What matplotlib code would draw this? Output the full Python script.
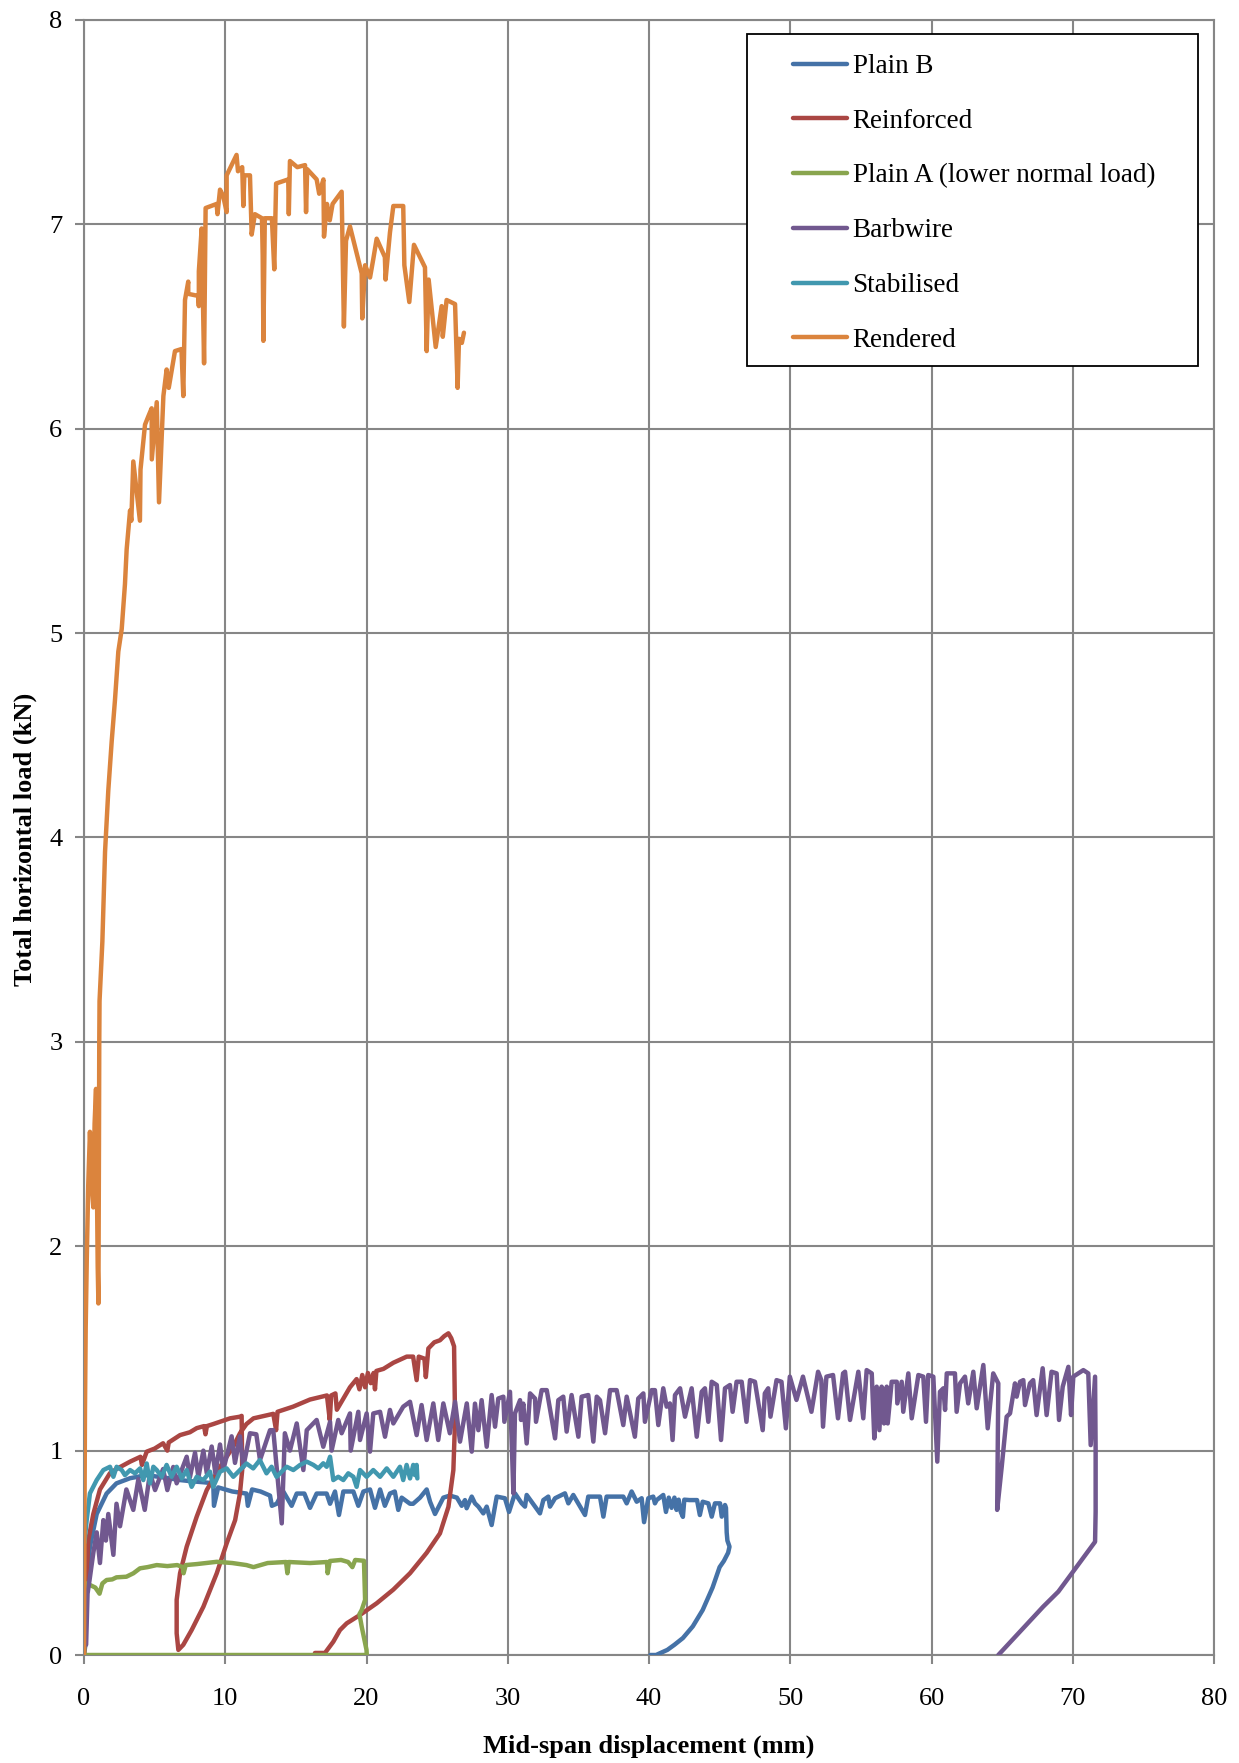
import matplotlib
matplotlib.use("Agg")
import matplotlib.pyplot as plt
from matplotlib.patches import Rectangle

plt.rcParams['font.family'] = ['Liberation Serif', 'DejaVu Serif']

# ---- data ----
labels = ["Plain B", "Reinforced", "Plain A (lower normal load)", "Barbwire", "Stabilised", "Rendered"]
colors = ["#4572A7", "#AA4643", "#89A54E", "#71588F", "#4198AF", "#DB843D"]

plain_b_x = [0.0, 0.1, 0.2, 0.42, 0.9, 1.6, 2.3, 3.26, 4.4, 5.5, 6.8, 7.6, 8.5, 9.15, 9.2, 9.5, 10.5,
             11.5, 11.6, 11.9, 12.5, 13.17, 13.3, 13.64, 14.11, 14.7, 15.06, 15.6, 16.0, 16.47, 17.18,
             17.42, 17.77, 18.05, 18.36, 19.07, 19.42, 19.78, 20.25, 20.6, 20.96, 21.3, 21.66, 22.0,
             22.25, 22.49, 23.08, 23.3, 23.79, 24.26, 24.5, 24.85, 25.44, 25.9, 26.4, 26.74, 26.97,
             27.09, 27.45, 27.68, 27.92, 28.27, 28.51, 28.86, 29.22, 29.8, 30.09, 30.51, 30.99, 31.22,
             31.34, 32.28, 32.52, 32.87, 32.99, 33.35, 34.05, 34.29, 34.64, 35.47, 35.7, 36.53, 36.77,
             37.0, 38.18, 38.42, 38.77, 39.13, 39.48, 39.65, 39.95, 40.3, 40.42, 40.54, 41.01, 41.2,
             41.4, 41.6, 41.8, 41.95, 42.1, 42.25, 42.4, 42.5, 42.88, 43.4, 43.6, 43.8, 44.2, 44.44,
             44.67, 45.03, 45.15, 45.38, 45.45, 45.5, 45.55, 45.7, 45.6, 45.3, 45.0, 44.5, 43.8,
             43.1, 42.4, 41.8, 41.3, 40.5, 40.1]
plain_b_y = [0.0, 0.05, 0.37, 0.53, 0.69, 0.79, 0.84, 0.865, 0.88, 0.87, 0.856, 0.85, 0.845, 0.84, 0.73,
             0.82, 0.80, 0.79, 0.73, 0.81, 0.80, 0.78, 0.73, 0.74, 0.80, 0.73, 0.79, 0.79, 0.72, 0.79,
             0.79, 0.74, 0.80, 0.685, 0.80, 0.80, 0.73, 0.80, 0.81, 0.72, 0.81, 0.73, 0.79, 0.80,
             0.71, 0.77, 0.74, 0.74, 0.77, 0.81, 0.75, 0.69, 0.77, 0.78, 0.77, 0.73, 0.758,
             0.718, 0.775, 0.742, 0.726, 0.693, 0.726, 0.636, 0.775, 0.767, 0.70, 0.791, 0.742, 0.726,
             0.783, 0.693, 0.758, 0.775, 0.726, 0.767, 0.791, 0.742, 0.783, 0.685, 0.775, 0.775, 0.677,
             0.775, 0.775, 0.742, 0.80, 0.75, 0.767, 0.65, 0.767, 0.775, 0.742, 0.758, 0.783, 0.70,
             0.77, 0.72, 0.77, 0.71, 0.76, 0.70, 0.676, 0.76, 0.758, 0.758, 0.685, 0.75, 0.742, 0.677,
             0.742, 0.742, 0.677, 0.734, 0.72, 0.60, 0.56, 0.53, 0.50, 0.46, 0.43, 0.33, 0.22,
             0.14, 0.083, 0.05, 0.025, 0.0, 0.0]

reinf_x = [0.0, 0.1, 0.3, 0.66, 1.13, 1.84, 2.3, 3.26, 4.0, 4.1, 4.44, 5.0, 5.6, 5.9, 6.0, 6.8, 7.5,
           7.98, 8.5, 8.6, 8.7, 9.15, 10.34, 11.04, 11.16, 11.2, 11.04, 10.7, 10.1, 9.4, 8.45, 7.62,
           7.03, 6.68, 6.56, 6.56, 6.8, 7.27, 7.98, 8.69, 9.63, 10.57, 11.04, 11.5, 12.0, 13.4, 13.6,
           13.7, 14.8, 16.0, 17.2, 17.4, 17.5, 17.8, 17.9, 18.83, 19.3, 19.5, 19.7, 19.9, 20.1, 20.3,
           20.5, 20.6, 20.7, 21.2, 21.9, 22.85, 23.3, 23.55, 23.7, 24.1, 24.2, 24.38, 24.8, 25.2, 25.5,
           25.8, 26.0, 26.2, 26.27, 26.15, 25.8, 25.2, 24.26, 23.08, 21.9, 20.72, 19.54, 18.6, 18.12,
           17.65, 17.06, 16.35]
reinf_y = [0.0, 0.2, 0.56, 0.69, 0.81, 0.89, 0.91, 0.946, 0.97, 0.93, 0.995, 1.01, 1.036, 1.0, 1.04,
           1.076, 1.09, 1.11, 1.12, 1.08, 1.12, 1.13, 1.158, 1.166, 1.17, 0.905, 0.79, 0.66, 0.546,
           0.40, 0.236, 0.122, 0.05, 0.025, 0.106, 0.27, 0.40, 0.53, 0.677, 0.807, 0.92, 1.02, 1.085,
           1.13, 1.158, 1.18, 1.10, 1.19, 1.215, 1.25, 1.27, 1.15, 1.27, 1.28, 1.20, 1.31, 1.35, 1.30,
           1.37, 1.31, 1.38, 1.33, 1.38, 1.30, 1.39, 1.40, 1.43, 1.46, 1.46, 1.345, 1.46, 1.45, 1.36,
           1.50, 1.53, 1.54, 1.56, 1.574, 1.55, 1.51, 1.15, 0.905, 0.725, 0.595, 0.50, 0.40, 0.32,
           0.253, 0.196, 0.155, 0.122, 0.065, 0.01, 0.01]

plain_a_x = [0.0, 0.05, 0.1, 0.19, 0.5, 0.8, 1.1, 1.3, 1.6, 2.0, 2.3, 3.0, 3.5, 3.96, 4.5, 5.15, 5.9,
             6.6, 7.0, 7.05, 7.2, 8.0, 9.4, 10.5, 11.5, 12.0, 13.0, 14.3, 14.4, 14.5, 16.0, 17.2,
             17.25, 17.4, 18.2, 18.7, 19.0, 19.2, 19.82, 19.9, 19.66, 19.5, 19.66, 20.0, 20.02, 0.0]
plain_a_y = [0.0, 0.2, 0.33, 0.35, 0.34, 0.33, 0.30, 0.35, 0.367, 0.37, 0.38, 0.383, 0.40, 0.424,
             0.43, 0.44, 0.435, 0.44, 0.43, 0.40, 0.44, 0.445, 0.456, 0.45, 0.44, 0.43, 0.45, 0.455,
             0.40, 0.455, 0.45, 0.455, 0.40, 0.46, 0.465, 0.455, 0.43, 0.465, 0.461, 0.27, 0.22, 0.2,
             0.139, 0.025, 0.0, 0.0]

barb_x = [0.15, 0.25, 0.4, 0.66, 0.9, 1.13, 1.37, 1.55, 1.72, 2.08, 2.3, 2.55, 3.0, 3.49, 3.85, 4.3,
          4.67, 5.03, 5.6, 5.9, 6.32, 6.56, 7.27, 7.5, 7.86, 8.1, 8.45, 8.69, 9.04, 9.3, 9.63, 9.86,
          10.45, 10.69, 11.04, 11.28, 11.75, 12.2, 12.46, 13.17, 13.4, 14.0, 14.22, 14.58, 15.06,
          15.53, 15.77, 16.47, 16.94, 17.42, 17.53, 18.0, 18.24, 18.83, 18.88, 19.42, 19.54, 20.01,
          20.25, 20.48, 20.96, 21.31, 21.66, 21.9, 22.6, 23.08, 23.55, 23.9, 24.26, 24.73, 25.08,
          25.44, 25.9, 26.27, 26.62, 27.1, 27.45, 27.68, 27.92, 28.15, 28.51, 28.86, 29.1, 29.33,
          29.69, 29.76, 30.16, 30.4, 30.51, 30.87, 30.94, 31.1, 31.34, 31.58, 31.93, 32.0, 32.4,
          32.76, 33.35, 33.58, 33.93, 34.17, 34.52, 35.0, 35.23, 35.7, 36.06, 36.3, 36.53, 36.89,
          37.24, 37.71, 38.18, 38.42, 39.0, 39.24, 39.6, 39.71, 40.19, 40.42, 40.66, 41.01, 41.25,
          41.48, 41.67, 41.84, 42.2, 42.55, 43.02, 43.38, 43.73, 43.96, 44.2, 44.44, 44.8, 45.1,
          45.38, 45.73, 45.92, 46.2, 46.56, 46.9, 47.15, 47.5, 48.05, 48.2, 48.44, 48.6, 49.03,
          49.38, 49.69, 49.97, 50.44, 50.9, 51.5, 51.97, 52.2, 52.32, 52.56, 53.03, 53.38, 53.74,
          53.88, 54.23, 54.82, 55.17, 55.41, 55.77, 55.95, 56.12, 56.31, 56.47, 56.64, 56.83, 56.9,
          57.18, 57.54, 57.58, 57.89, 58.0, 58.36, 58.6, 59.07, 59.42, 59.61, 59.77, 60.13, 60.41,
          60.6, 60.84, 60.96, 61.08, 61.66, 61.78, 62.02, 62.37, 62.6, 62.96, 63.2, 63.67, 63.98,
          64.37, 64.73, 64.65, 64.97, 65.32, 65.56, 65.91, 66.03, 66.27, 66.5, 66.62, 66.97, 67.2,
          67.44, 67.87, 68.15, 68.5, 68.86, 69.03, 69.29, 69.69, 69.88, 70.04, 70.75, 71.1, 71.27,
          71.58, 71.62, 71.62, 71.58, 68.98, 67.9, 64.73]
barb_y = [0.05, 0.30, 0.37, 0.5, 0.6, 0.45, 0.66, 0.56, 0.69, 0.49, 0.74, 0.63, 0.81, 0.71, 0.86,
          0.71, 0.89, 0.807, 0.91, 0.807, 0.92, 0.84, 0.97, 0.87, 0.99, 0.87, 1.0, 0.89, 1.02, 0.89,
          1.03, 0.905, 1.07, 0.94, 1.07, 0.92, 1.085, 1.08, 0.954, 1.10, 1.10, 0.644, 1.085, 1.0,
          1.133, 0.905, 1.10, 1.15, 1.019, 1.141, 1.0, 1.15, 1.085, 1.182, 1.0, 1.19, 1.052, 1.182,
          0.995, 1.182, 1.19, 1.068, 1.199, 1.133, 1.215, 1.239, 1.076, 1.223, 1.052, 1.231, 1.052,
          1.231, 1.085, 1.239, 1.044, 1.231, 0.995, 1.23, 1.10, 1.247, 1.019, 1.272, 1.117, 1.255,
          1.264, 1.141, 1.288, 0.791, 1.182, 1.247, 1.15, 1.23, 1.035, 1.28, 1.255, 1.141, 1.296,
          1.296, 1.06, 1.247, 1.264, 1.093, 1.272, 1.068, 1.264, 1.272, 1.044, 1.264, 1.247, 1.085,
          1.296, 1.296, 1.125, 1.264, 1.068, 1.255, 1.28, 1.141, 1.296, 1.296, 1.125, 1.305, 1.215,
          1.231, 1.052, 1.272, 1.305, 1.166, 1.305, 1.068, 1.288, 1.305, 1.141, 1.337, 1.321, 1.052,
          1.305, 1.321, 1.19, 1.337, 1.337, 1.141, 1.345, 1.337, 1.10, 1.28, 1.305, 1.166, 1.345,
          1.337, 1.109, 1.362, 1.248, 1.362, 1.19, 1.386, 1.345, 1.117, 1.362, 1.37, 1.158, 1.378,
          1.386, 1.15, 1.386, 1.158, 1.394, 1.378, 1.06, 1.313, 1.10, 1.313, 1.133, 1.313, 1.133,
          1.337, 1.337, 1.231, 1.337, 1.19, 1.378, 1.158, 1.37, 1.362, 1.141, 1.37, 1.362, 0.946,
          1.288, 1.305, 1.199, 1.378, 1.378, 1.19, 1.329, 1.362, 1.231, 1.386, 1.207, 1.419, 1.109,
          1.378, 1.329, 0.71, 0.92, 1.166, 1.182, 1.329, 1.264, 1.337, 1.345, 1.223, 1.329, 1.345,
          1.174, 1.403, 1.174, 1.386, 1.378, 1.15, 1.313, 1.41, 1.174, 1.362, 1.394, 1.378, 1.027,
          1.362, 1.0, 0.7, 0.554, 0.31, 0.236, 0.0]

stab_x = [0.03, 0.19, 0.42, 0.9, 1.37, 1.84, 2.08, 2.31, 2.67, 2.9, 3.26, 3.61, 3.97, 4.2, 4.44, 4.67,
          4.91, 5.15, 5.5, 5.85, 6.2, 6.56, 6.92, 7.27, 7.62, 7.98, 8.45, 8.92, 9.15, 9.63, 10.1,
          10.57, 11.04, 11.5, 11.98, 12.45, 12.92, 13.28, 13.63, 14.11, 14.35, 14.82, 15.3, 15.77,
          16.24, 16.59, 16.94, 17.18, 17.42, 17.65, 18.0, 18.36, 18.71, 19.07, 19.3, 19.54, 20.01,
          20.48, 20.96, 21.43, 21.9, 22.37, 22.6, 22.84, 23.08, 23.31, 23.43, 23.55, 23.6]
stab_y = [0.55, 0.66, 0.791, 0.856, 0.905, 0.921, 0.872, 0.921, 0.905, 0.88, 0.905, 0.889, 0.913,
          0.856, 0.937, 0.84, 0.921, 0.905, 0.872, 0.93, 0.872, 0.921, 0.864, 0.905, 0.823, 0.872,
          0.856, 0.897, 0.823, 0.897, 0.913, 0.872, 0.905, 0.937, 0.913, 0.954, 0.889, 0.921, 0.872,
          0.905, 0.921, 0.905, 0.93, 0.946, 0.93, 0.913, 0.938, 0.921, 0.97, 0.856, 0.872, 0.856,
          0.889, 0.872, 0.823, 0.905, 0.872, 0.905, 0.872, 0.913, 0.872, 0.921, 0.856, 0.93, 0.864,
          0.93, 0.88, 0.93, 0.864]

rend_x = [0.0, 0.03, 0.07, 0.12, 0.2, 0.3, 0.42, 0.5, 0.6, 0.66, 0.75, 0.85, 0.9, 0.97, 1.02, 1.06,
          1.08, 1.1, 1.3, 1.49, 1.72, 1.96, 2.19, 2.43, 2.67, 2.9, 3.02, 3.26, 3.35, 3.49, 3.96, 4.0,
          4.32, 4.55, 4.79, 4.8, 5.15, 5.31, 5.62, 5.85, 6.0, 6.44, 6.9, 7.03, 7.15, 7.38, 7.38,
          8.09, 8.13, 8.13, 8.33, 8.5, 8.61, 9.39, 9.45, 9.63, 9.85, 10.1, 10.1, 10.8, 10.9, 11.2,
          11.28, 11.35, 11.75, 11.87, 12.1, 12.6, 12.65, 12.7, 12.8, 13.3, 13.47, 13.6, 14.46, 14.5,
          14.58, 15.1, 15.65, 15.72, 15.8, 16.47, 16.65, 16.95, 16.99, 17.2, 17.4, 17.6, 18.24,
          18.4, 18.55, 18.83, 19.66, 19.7, 19.9, 20.25, 20.48, 20.72, 21.3, 21.35, 21.66, 21.9,
          22.6, 22.68, 23.03, 23.36, 24.14, 24.26, 24.4, 24.9, 25.32, 25.4, 25.67, 26.27, 26.45,
          26.55, 26.75, 26.9]
rend_y = [0.0, 0.6, 1.2, 1.6, 1.95, 2.3, 2.56, 2.4, 2.25, 2.19, 2.6, 2.77, 2.4, 1.9, 1.72, 2.5, 2.99,
          3.2, 3.49, 3.93, 4.23, 4.47, 4.67, 4.91, 5.02, 5.24, 5.41, 5.6, 5.55, 5.84, 5.55, 5.8,
          6.02, 6.06, 6.1, 5.85, 6.13, 5.64, 6.16, 6.29, 6.2, 6.38, 6.39, 6.16, 6.63, 6.72, 6.66,
          6.65, 6.6, 6.77, 6.98, 6.32, 7.08, 7.1, 7.05, 7.17, 7.14, 7.06, 7.24, 7.34, 7.26, 7.28,
          7.09, 7.24, 7.24, 6.95, 7.05, 7.03, 6.85, 6.43, 7.03, 7.03, 6.78, 7.2, 7.22, 7.05, 7.31,
          7.28, 7.29, 7.06, 7.27, 7.22, 7.15, 7.22, 6.94, 7.1, 7.02, 7.1, 7.16, 6.5, 6.92, 6.99,
          6.76, 6.54, 6.8, 6.74, 6.83, 6.93, 6.84, 6.73, 6.96, 7.09, 7.09, 6.8, 6.62, 6.9, 6.79,
          6.38, 6.73, 6.4, 6.6, 6.45, 6.63, 6.61, 6.2, 6.44, 6.42, 6.47]

series = [(plain_b_x, plain_b_y), (reinf_x, reinf_y), (plain_a_x, plain_a_y),
          (barb_x, barb_y), (stab_x, stab_y), (rend_x, rend_y)]

x_ticks = [0, 10, 20, 30, 40, 50, 60, 70, 80]
y_ticks = [0, 1, 2, 3, 4, 5, 6, 7, 8]

# ---- figure ----
W, H = 1239, 1763
fig = plt.figure(figsize=(W / 100, H / 100), dpi=100)
ax = fig.add_axes([84 / W, 1 - 1655 / H, 1130 / W, 1635 / H])

grey = "#868686"
for (xs, ys), lab, col in zip(series, labels, colors):
    ax.plot(xs, ys, color=col, lw=3.2, label=lab, solid_joinstyle="round",
            solid_capstyle="round", zorder=3)

ax.set_xlim(0, 80)
ax.set_ylim(0, 8)
ax.set_xticks(x_ticks)
ax.set_yticks(y_ticks)
ax.grid(True, color=grey, lw=1.5, zorder=0)
ax.set_axisbelow(True)
for sp in ax.spines.values():
    sp.set_color(grey)
    sp.set_linewidth(1.5)
ax.tick_params(axis="both", direction="out", length=6.5, width=1.5, color=grey, labelsize=19)
ax.tick_params(axis="x", pad=17)
ax.tick_params(axis="y", pad=9)

fig.text(649 / W, 1 - 1746 / H, "Mid-span displacement (mm)", ha="center", va="center",
         fontsize=19, fontweight="bold")
fig.text(25 / W, 1 - 839 / H, "Total horizontal load (kN)", ha="center", va="center",
         rotation=90, fontsize=19, fontweight="bold")

# legend box
box = Rectangle((747 / W, 1 - 366 / H), 451 / W, 332 / H, transform=fig.transFigure,
                facecolor="white", edgecolor="black", lw=1.3, zorder=4)
fig.patches.append(box)
leg = fig.legend(loc="upper left", bbox_to_anchor=(793 / W, 1 - 54 / H), frameon=False,
                 fontsize=19.5, handlelength=2.0, handletextpad=0.2, labelspacing=1.1,
                 borderpad=0, borderaxespad=0)
for h in leg.legend_handles:
    h.set_linewidth(3.2)

fig.savefig("out.png", dpi=100)
